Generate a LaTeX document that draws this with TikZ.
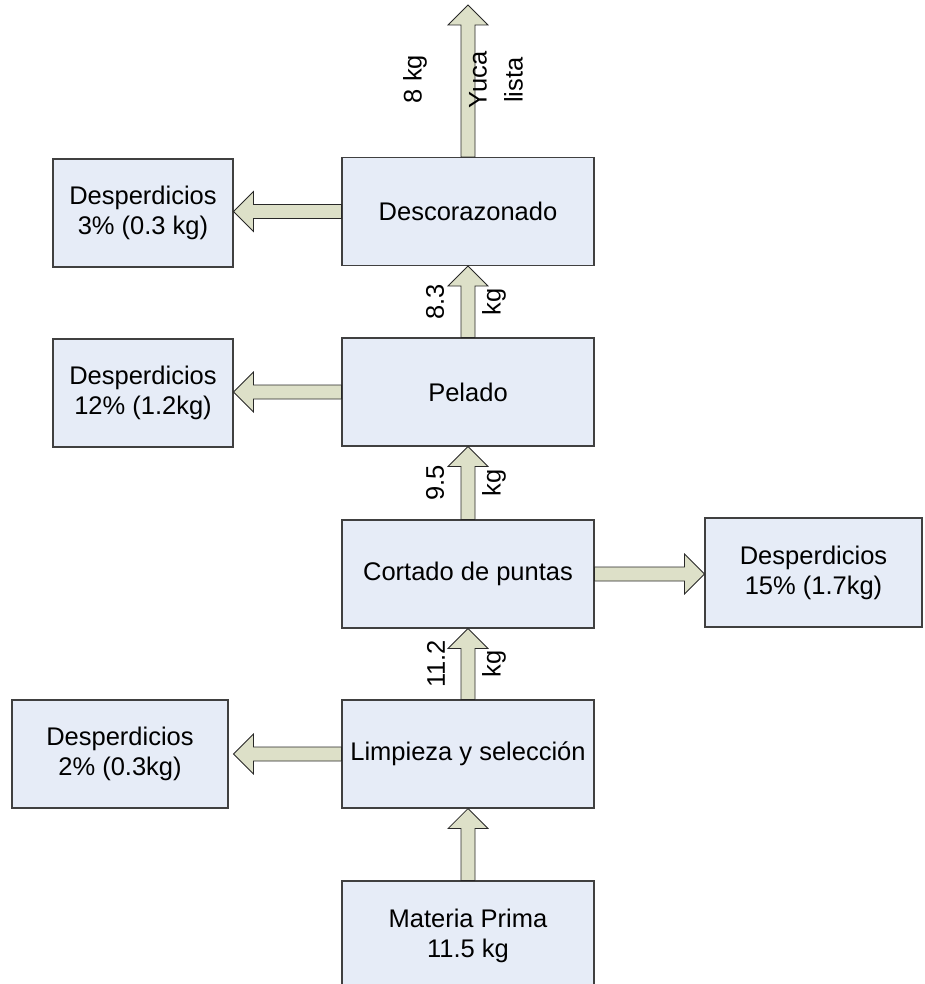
\documentclass[tikz,border=0pt]{standalone}
\usepackage{fontspec}
\setmainfont{Liberation Sans}
\usetikzlibrary{calc}

\definecolor{boxfill}{RGB}{230,236,247}
\definecolor{boxline}{RGB}{64,64,64}
\definecolor{flowfill}{RGB}{221,224,200}
\definecolor{flowline}{RGB}{40,40,40}

\tikzset{
	every node/.style={font=\fontsize{25.5}{30}\selectfont, align=center},
	procbox/.style={draw=boxline, fill=boxfill, line width=1.1pt, minimum width=252pt, minimum height=108pt},
	wastebox/.style={procbox, minimum width=180pt},
	flow/.style={draw=flowline, fill=flowfill, line width=0.8pt, line join=miter},
	lbl/.style={rotate=90, inner sep=0pt}
}

% block arrow from #1 to #2
\newcommand{\flowarrow}[2]{%
	\coordinate (hb) at ($(#2)!20pt!(#1)$);
	\draw[flow] ($(#1)!7pt!90:(#2)$) -- ($(hb)!7pt!90:(#2)$) -- ($(hb)!20pt!90:(#2)$) -- (#2)
		-- ($(hb)!20pt!-90:(#2)$) -- ($(hb)!7pt!-90:(#2)$) -- ($(#1)!7pt!-90:(#2)$) -- cycle;}

\begin{document}
\begin{tikzpicture}[x=1pt, y=-1pt]
	\useasboundingbox (0,0) rectangle (924,984);

	% main line
	\node[procbox] (desc) at (468, 211.5) {Descorazonado};
	\node[procbox] (pel) at (468, 392) {Pelado};
	\node[procbox] (cort) at (468, 574) {Cortado de puntas};
	\node[procbox] (limp) at (468, 754) {Limpieza y selección};
	\node[procbox, minimum height=109pt] (mat) at (468, 935.5) {Materia Prima\\11.5 kg};

	% waste
	\node[wastebox] (d3) at (143, 213) {Desperdicios\\3\% (0.3 kg)};
	\node[wastebox] (d12) at (143, 393) {Desperdicios\\12\% (1.2kg)};
	\node[wastebox, minimum width=217pt, minimum height=109pt] (d15) at (813.5, 572.5) {Desperdicios\\15\% (1.7kg)};
	\node[wastebox, minimum width=216pt] (d2) at (120, 754) {Desperdicios\\2\% (0.3kg)};

	\coordinate (out) at (468, 5);
	\coordinate (t2) at ([xshift=5pt]d2.east |- limp.west);

	\flowarrow{mat.north}{limp.south}
	\flowarrow{limp.north}{cort.south}
	\flowarrow{cort.north}{pel.south}
	\flowarrow{pel.north}{desc.south}
	\flowarrow{desc.north}{out}
	\flowarrow{desc.west}{desc.west -| d3.east}
	\flowarrow{pel.west}{pel.west -| d12.east}
	\flowarrow{cort.east}{cort.east -| d15.west}
	\flowarrow{limp.west}{t2}

	% flow labels
	\coordinate (m1) at ($(limp.north)!0.5!(cort.south)$);
	\coordinate (m2) at ($(cort.north)!0.5!(pel.south)$);
	\coordinate (m3) at ($(pel.north)!0.5!(desc.south)$);
	\node[lbl] (w1) at ([xshift=-32pt]m1) {11.2};
	\node[lbl] (u1) at ([xshift=26pt]m1) {kg};
	\node[lbl] (w2) at ([xshift=-33pt]m2) {9.5};
	\node[lbl] (u2) at ([xshift=26pt]m2) {kg};
	\node[lbl] (w3) at ([xshift=-33pt]m3) {8.3};
	\node[lbl] (u3) at ([xshift=26pt]m3) {kg};
	\node[lbl] (wout) at (415, 79) {8 kg};
	\node[lbl, font=\fontsize{25.5}{36}\selectfont] (prod) at (496, 80) {Yuca\\lista};
\end{tikzpicture}
\end{document}
